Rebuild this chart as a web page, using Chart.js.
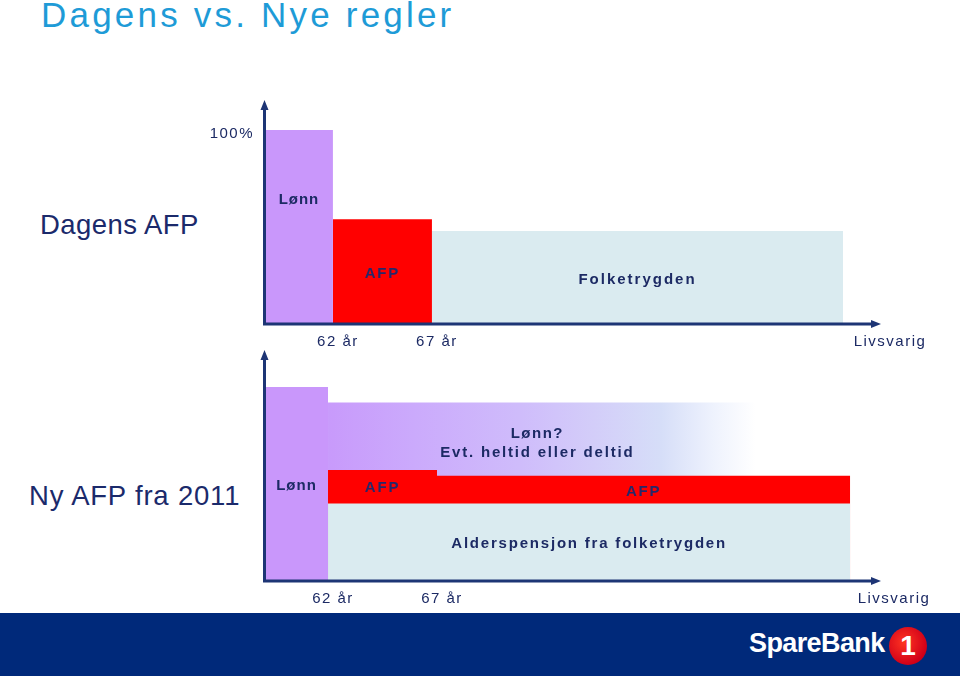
<!DOCTYPE html>
<html><head><meta charset="utf-8">
<script src="https://cdn.jsdelivr.net/npm/chart.js@4.4.1/dist/chart.umd.min.js"></script>
<style>
html,body{margin:0;padding:0;background:#fff;width:960px;height:679px;overflow:hidden;font-family:"Liberation Sans",Arial,sans-serif}
#title{position:absolute;left:41px;top:-5px;font-size:35px;color:#1e9bd7;letter-spacing:3.2px;white-space:nowrap}
.side{position:absolute;color:#1b2a6b;font-size:27.5px;white-space:nowrap}
#c1{position:absolute;left:0;top:0}
#c2{position:absolute;left:0;top:340px}
#banner{position:absolute;left:0;top:613px;width:960px;height:63px;background:#00297a}
#logoText{position:absolute;left:749px;top:15px;color:#fff;font-weight:bold;font-size:27px;letter-spacing:-0.6px;white-space:nowrap}
#logoOne{position:absolute;left:889px;top:14px;width:38px;height:38px;border-radius:50%;background:radial-gradient(circle at 40% 40%,#ff3322,#d00018 70%,#a80014);color:#fff;font-weight:bold;font-size:28px;line-height:38px;text-align:center}
</style>
</head>
<body>
<div id="title">Dagens vs. Nye regler</div>
<div class="side" style="left:40px;top:209px;letter-spacing:0.45px;">Dagens AFP</div>
<div class="side" style="left:29px;top:480px;letter-spacing:0.8px;">Ny AFP fra 2011</div>
<canvas id="c1" width="960" height="360"></canvas>
<canvas id="c2" width="960" height="275"></canvas>
<div id="banner"><div id="logoText">SpareBank</div><div id="logoOne">1</div></div>
<script>
// ---------- data ----------
const tickAges = [62, 67];
const tickLabels = ['62 år', '67 år', 'Livsvarig'];
const yTickValues = [100];
const yTickLabels = ['100%'];

// Dagens AFP: segments Lønn, AFP, Folketrygden
const dagensSeries = ['Lønn', 'AFP', 'Folketrygden'];
const dagensFrom = [58.57, 62, 67];
const dagensTo = [62, 67, 87.76];
const dagensLevel = [100, 54, 48];

// Ny AFP fra 2011
const nySeries = ['Lønn', 'Lønn?', 'AFP', 'Alderspensjon fra folketrygden'];
const nyLonnSpan = [59.11, 62];
const nyLonnLevel = 100;
const nyBandSpan = [62, 81.6];
const nyBandLevel = 92;
const nyAfpAges = [62, 67, 85.95];
const nyAfpLevel = [57.2, 54.2];
const nyAlderSpan = [62, 85.95];
const nyAlderLevel = 40;

// ---------- styling ----------
const NAVY = '#1d3575';
const TXT = '#1c2a64';
const PURPLE = '#c997fb';
const RED = '#ff0000';
const LIGHTBLUE = '#daebf0';

function rect(from, to, level) {
  return [{x: from, y: level}, {x: to, y: level}];
}
function baseDs(label, data, color) {
  return {label, data, backgroundColor: color, borderColor: 'transparent', borderWidth: 0,
    pointRadius: 0, pointHoverRadius: 0, fill: 'origin', tension: 0};
}

const axesPlugin = {
  id: 'axesArrows',
  afterDatasetsDraw(chart, args, o) {
    const {ctx, chartArea, scales: {x, y}} = chart;
    const left = chartArea.left - 0.5;
    const y0 = y.getPixelForValue(0);
    ctx.save();
    ctx.strokeStyle = NAVY; ctx.fillStyle = NAVY; ctx.lineWidth = 3;
    ctx.beginPath();
    ctx.moveTo(left, y0 + 1.5); ctx.lineTo(left, chartArea.top + 8);
    ctx.moveTo(left - 1.5, y0); ctx.lineTo(o.arrowX - 8, y0);
    ctx.stroke();
    ctx.beginPath();
    ctx.moveTo(left, chartArea.top); ctx.lineTo(left - 4, chartArea.top + 10); ctx.lineTo(left + 4, chartArea.top + 10); ctx.closePath();
    ctx.moveTo(o.arrowX, y0); ctx.lineTo(o.arrowX - 10, y0 - 4); ctx.lineTo(o.arrowX - 10, y0 + 4); ctx.closePath();
    ctx.fill();
    // tick labels
    ctx.fillStyle = TXT;
    ctx.font = '15px "Liberation Sans", Arial, sans-serif';
    ctx.letterSpacing = '1.5px';
    ctx.textAlign = 'center'; ctx.textBaseline = 'middle';
    const vals = tickAges.concat([x.max]);
    vals.forEach((v, i) => ctx.fillText(tickLabels[i], x.getPixelForValue(v) + 5, y0 + 18));
    if (o.yTicks) {
      ctx.textAlign = 'right';
      yTickValues.forEach((v, i) => ctx.fillText(yTickLabels[i], chartArea.left - 11, y.getPixelForValue(v) + 4));
    }
    // segment labels
    ctx.font = 'bold 15px "Liberation Sans", Arial, sans-serif';
    ctx.textAlign = 'center';
    o.labels.forEach(l => {
      ctx.fillStyle = l.color || TXT;
      ctx.letterSpacing = (l.sp || 1.8) + 'px';
      ctx.fillText(l.text, x.getPixelForValue(l.x), y.getPixelForValue(l.y));
    });
    ctx.restore();
  }
};

const common = (minX, maxX, maxY, pad, plug) => ({
  responsive: false, animation: false, events: [],
  layout: {padding: pad},
  scales: {
    x: {type: 'linear', min: minX, max: maxX, display: false},
    y: {type: 'linear', min: 0, max: maxY, display: false}
  },
  plugins: {legend: {display: false}, tooltip: {enabled: false}, axesArrows: plug}
});

// ---------- chart 1: Dagens AFP ----------
new Chart(document.getElementById('c1'), {
  type: 'line',
  data: {datasets: dagensSeries.map((s, i) =>
    baseDs(s, rect(dagensFrom[i], dagensTo[i], dagensLevel[i]), [PURPLE, RED, LIGHTBLUE][i]))},
  options: common(dagensFrom[0], 89.88, 115.46, {left: 265, right: 75, top: 100, bottom: 36}, {
    arrowX: 881, yTicks: true,
    labels: [
      {text: dagensSeries[0], x: (dagensFrom[0] + dagensTo[0]) / 2, y: 64, sp: 1},
      {text: dagensSeries[1], x: (dagensFrom[1] + dagensTo[1]) / 2, y: 26, sp: 1.8, color: '#26286a'},
      {text: dagensSeries[2], x: (dagensFrom[2] + dagensTo[2]) / 2, y: 23, sp: 2}
    ]
  }),
  plugins: [axesPlugin]
});

// ---------- chart 2: Ny AFP fra 2011 ----------
const bandColor = (c) => {
  const ch = c.chart;
  if (!ch.chartArea) return PURPLE;
  const xs = ch.scales.x;
  const g = ch.ctx.createLinearGradient(xs.getPixelForValue(nyBandSpan[0]), 0, xs.getPixelForValue(nyBandSpan[1]), 0);
  g.addColorStop(0, '#c89afb');
  g.addColorStop(0.2, '#cbaafc');
  g.addColorStop(0.45, '#cfbcfb');
  g.addColorStop(0.62, '#d3cdf9');
  g.addColorStop(0.78, '#d6def8');
  g.addColorStop(0.9, '#eef2fd');
  g.addColorStop(1, 'rgba(255,255,255,1)');
  return g;
};
const afpPts = [
  {x: nyAfpAges[0], y: nyAfpLevel[0]}, {x: nyAfpAges[1], y: nyAfpLevel[0]},
  {x: nyAfpAges[1], y: nyAfpLevel[1]}, {x: nyAfpAges[2], y: nyAfpLevel[1]}
];
new Chart(document.getElementById('c2'), {
  type: 'line',
  data: {datasets: [
    baseDs(nySeries[3], rect(nyAlderSpan[0], nyAlderSpan[1], nyAlderLevel), LIGHTBLUE),
    baseDs(nySeries[2], afpPts, RED),
    baseDs(nySeries[1], rect(nyBandSpan[0], nyBandSpan[1], nyBandLevel), bandColor),
    baseDs(nySeries[0], rect(nyLonnSpan[0], nyLonnSpan[1], nyLonnLevel), PURPLE)
  ]},
  options: common(nyLonnSpan[0], 87.73, 119.07, {left: 265, right: 71, top: 10, bottom: 34}, {
    arrowX: 881, yTicks: false,
    labels: [
      {text: nySeries[0], x: (nyLonnSpan[0] + nyLonnSpan[1]) / 2, y: 49, sp: 1},
      {text: 'Lønn?', x: 71.6, y: 76, sp: 1.5},
      {text: 'Evt. heltid eller deltid', x: 71.6, y: 66, sp: 1.8},
      {text: nySeries[2], x: (nyAfpAges[0] + nyAfpAges[1]) / 2, y: 48, sp: 1.8, color: '#26286a'},
      {text: nySeries[2], x: (nyAfpAges[1] + nyAfpAges[2]) / 2, y: 46, sp: 1.8, color: '#26286a'},
      {text: nySeries[3], x: (nyAlderSpan[0] + nyAlderSpan[1]) / 2, y: 19, sp: 1.8}
    ]
  }),
  plugins: [axesPlugin]
});
</script>
</body></html>
